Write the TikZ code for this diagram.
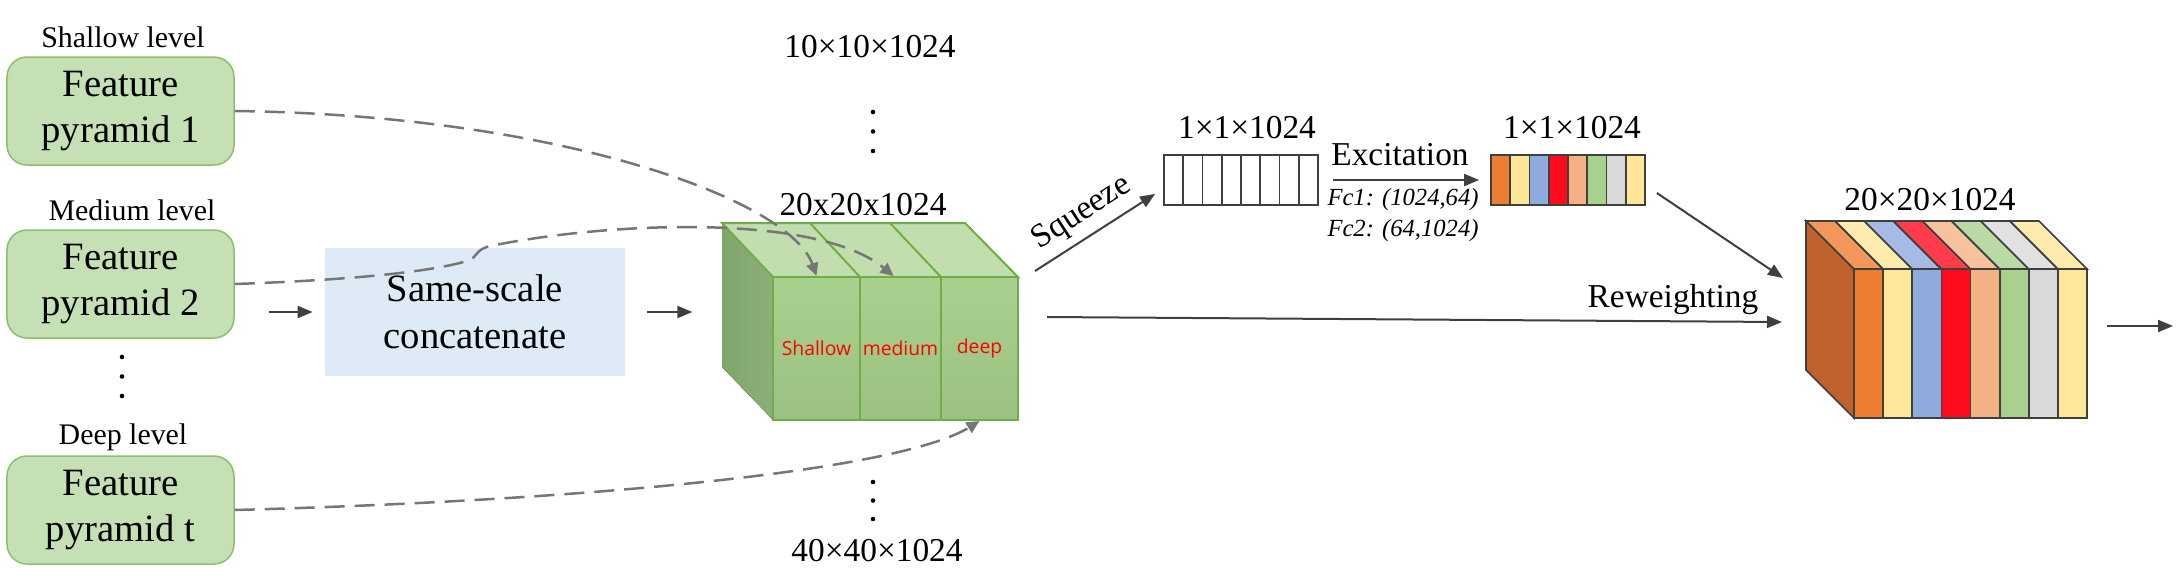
\documentclass[tikz,border=0pt]{standalone}
\usepackage{fontspec}
\setmainfont{Liberation Serif}
\newfontfamily\tnr{Liberation Serif}
\newfontfamily\slicefont{Open Sans}
\usetikzlibrary{arrows.meta}
\definecolor{boxgreen}{HTML}{C5E0B4}
\definecolor{boxline}{HTML}{8CC06C}
\definecolor{concatblue}{HTML}{DEEBF7}
\definecolor{cubetop}{HTML}{C2DEAF}
\definecolor{cubeside}{HTML}{80A66B}
\definecolor{cubeline}{HTML}{70AD47}
\definecolor{linkgray}{HTML}{767676}
\definecolor{arrowgray}{HTML}{3F3F3F}
\definecolor{vorange}{HTML}{ED7D31}
\definecolor{vyellow}{HTML}{FFE699}
\definecolor{vblue}{HTML}{8FAADC}
\definecolor{vred}{HTML}{FF0B1E}
\definecolor{vpeach}{HTML}{F4B183}
\definecolor{vgreen}{HTML}{A9D18E}
\definecolor{vgrey}{HTML}{D9D9D9}
\definecolor{vside}{HTML}{C0622C}

\begin{document}
\begin{tikzpicture}[x=0.2mm, y=-0.2mm,
featbox/.style={rounded corners=4mm, fill=boxgreen, draw=boxline,
line width=0.3mm, minimum width=45.4mm, minimum height=21.6mm,
inner sep=0pt, align=center, font=\tnr\fontsize{22pt}{26pt}\selectfont},
lvl/.style={font=\tnr\fontsize{17pt}{20pt}\selectfont},
dim/.style={font=\tnr\fontsize{19pt}{22pt}\selectfont},
slice/.style={draw=cubeline, line width=0.4mm, minimum height=28.6mm,
inner sep=0pt, top color=vgreen, bottom color=vgreen!92!black,
text=red, font=\slicefont\fontsize{11pt}{13pt}\selectfont},
link/.style={draw=linkgray, line width=0.5mm, dash pattern=on 4mm off 2mm,
-{Triangle[length=2.6mm,width=2.4mm]}},
arr/.style={draw=arrowgray, line width=0.4mm,
-{Triangle[length=3mm,width=2.4mm]}},
cell/.style={draw=arrowgray, line width=0.35mm}]
\useasboundingbox (0,0) rectangle (2180,586);

\node[lvl] (lvl1) at (123,37) {Shallow level};
\node[featbox] (fp1) at (120.5,111) {Feature\\pyramid 1};
\node[lvl] (lvl2) at (132,210) {Medium level};
\node[featbox] (fp2) at (120.5,284) {Feature\\pyramid 2};
\foreach \y in {357,376.5,396} \fill (122,\y) circle (1.3pt);
\node[lvl] (lvlt) at (123,437) {Deep level};
\node[featbox] (fpt) at (120.5,510) {Feature\\pyramid t};

\node[fill=concatblue, minimum width=60mm, minimum height=25.6mm,
align=center, font=\tnr\fontsize{22pt}{26.6pt}\selectfont]
(concat) at (475,312) {Same-scale\\concatenate};
\draw[arr] ([xshift=-11.2mm]concat.west) -- ([xshift=-2.4mm]concat.west);
\draw[arr] ([xshift=4.4mm]concat.east) -- ([xshift=13.4mm]concat.east);

\fill[left color=cubeside, right color=cubeside!90!white]
(722,223) -- (773,277) -- (773,420) -- (722,367) -- cycle;
\filldraw[fill=cubetop, draw=cubeline, line width=0.4mm]
(722,223) -- (965,223) -- (1018,277) -- (773,277) -- cycle;
\draw[cubeline, line width=0.4mm] (810,223) -- (860,277) (890,223) -- (941,277);
\node[slice, minimum width=17.4mm] (sh) at (816.5,348.5) {\raisebox{-0.9mm}{Shallow}};
\node[slice, minimum width=16.2mm] (md) at (900.5,348.5) {\raisebox{-0.9mm}{medium}};
\node[slice, minimum width=15.4mm] (dp) at (979.5,348.5) {\raisebox{-0.9mm}{deep}};

\node[dim] (d10) at (870,47) {10×10×1024};
\foreach \y in {112,131.5,151} \fill (873,\y) circle (1.3pt);
\node[dim] (d20) at (863,205) {20x20x1024};
\foreach \y in {482,500.5,519} \fill (873,\y) circle (1.3pt);
\node[dim] (d40) at (877,551) {40×40×1024};

\draw[link] (fp1.east) .. controls (560,115) and (790,200) .. (sh.north);
\draw[link] (fp2.east) .. controls (350,280) and (430,272) .. (467,261)
.. controls (478,258) and (474,250) .. (490,246)
.. controls (620,220) and (820,215) .. ([xshift=-1.4mm]md.north);
\draw[link] (fpt.east) .. controls (600,500) and (900,470) .. (dp.south);

\node[cell, fill=white, minimum width=30.8mm, minimum height=10mm,
inner sep=0pt] (sq) at (1241,180) {};
\foreach \i in {1,...,7} \draw[cell] ({1164+19.25*\i},155) -- ({1164+19.25*\i},205);
\node[dim] (sqdim) at (1247,128) {1×1×1024};

\foreach \c [count=\i from 0] in {vorange,vyellow,vblue,vred,vpeach,vgreen,vgrey,vyellow}
\filldraw[cell, fill=\c] ({1491+19.25*\i},155) rectangle ({1491+19.25*(\i+1)},205);
\node[cell, minimum width=30.8mm, minimum height=10mm, inner sep=0pt] (ex) at (1568,180) {};
\node[dim] (exdim) at (1572,128) {1×1×1024};

\coordinate (sqin) at (1035,271);
\draw[arr] (sqin) -- ([shift={(-8,-12)}]sq.south west);
\node[dim, rotate=33] (sqlbl) at (1082,213) {Squeeze};
\draw[arr] ([xshift=2.8mm]sq.east) -- ([xshift=-2.2mm]ex.west);
\node[dim] (exlbl) at (1400,155) {Excitation};
\node[font=\tnr\itshape\fontsize{14pt}{17.6pt}\selectfont, align=left]
(fc) at (1403,215.5) {Fc1: (1024,64)\\Fc2: (64,1024)};

\coordinate (rcin) at (1783,278);
\draw[arr] ([shift={(11,13)}]ex.east) -- (rcin);
\coordinate (rwin) at (1047,317);
\coordinate (rwout) at (1782,322);
\draw[arr] (rwin) -- (rwout);
\node[dim] (rwlbl) at (1673,300) {Reweighting};

\filldraw[fill=vside, draw=arrowgray, line width=0.35mm]
(1806,221) -- (1854,269) -- (1854,418) -- (1806,370) -- cycle;
\foreach \c [count=\i from 0] in {vorange,vyellow,vblue,vred,vpeach,vgreen,vgrey,vyellow} {
\filldraw[cell, fill=\c!80!white] ({1854+29.125*\i},269) -- ({1806+29.125*\i},221)
-- ({1806+29.125*(\i+1)},221) -- ({1854+29.125*(\i+1)},269) -- cycle;
\filldraw[cell, fill=\c] ({1854+29.125*\i},269) rectangle ({1854+29.125*(\i+1)},418);
}
\node[dim] (rcdim) at (1930,200) {20×20×1024};
\coordinate (rcout) at (2107,326);
\coordinate (rcend) at (2173,326);
\draw[arr] (rcout) -- (rcend);
\end{tikzpicture}
\end{document}
